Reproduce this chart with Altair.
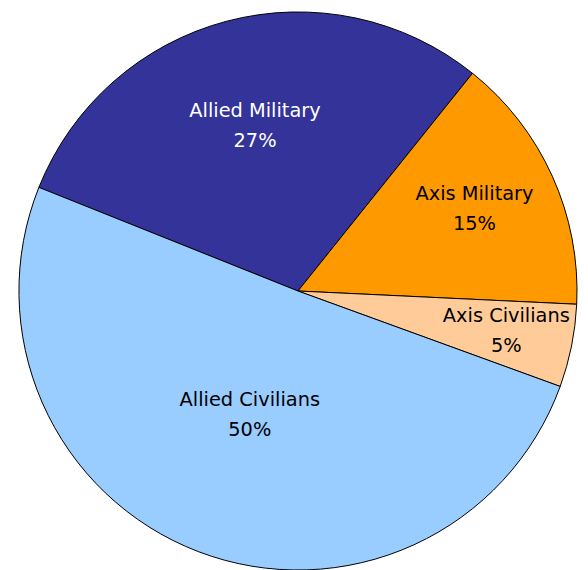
import math
import altair as alt
import pandas as pd

# Slices in clockwise order starting from the Allied Military / Allied Civilians edge
categories = ["Allied Military", "Axis Military", "Axis Civilians", "Allied Civilians"]
shares = [29.7, 15.0, 4.8, 50.5]          # angular share
pct_labels = ["27%", "15%", "5%", "50%"]   # printed labels

colors = ["#333399", "#FF9900", "#FFCC99", "#99CCFF"]
text_colors = ["#FFFFFF", "#000000", "#000000", "#000000"]
label_radius = [170, 195, 214, 136]

df = pd.DataFrame({
    "category": categories,
    "value": shares,
    "order": list(range(len(categories))),
    "label": [f"{c}\n{p}" for c, p in zip(categories, pct_labels)],
})

start = math.radians(291.8) - 2 * math.pi
theta_scale = alt.Scale(range=[start, start + 2 * math.pi], domain=[0, 100])

arcs = alt.Chart(df).mark_arc(radius=281, stroke="#000000", strokeWidth=1).encode(
    theta=alt.Theta("value:Q", stack=True, scale=theta_scale),
    order=alt.Order("order:Q", sort="ascending"),
    color=alt.Color("category:N", scale=alt.Scale(domain=categories, range=colors), legend=None),
)

texts = alt.Chart(df).transform_window(
    cum="sum(value)", sort=[alt.SortField("order", order="ascending")],
    frame=[None, 0],
).transform_calculate(
    mid="datum.cum - datum.value / 2",
    r=f"{label_radius}[datum.order]",
).mark_text(
    font="DejaVu Sans", fontSize=19.5, lineBreak="\n", lineHeight=30,
    align="center", baseline="middle", dy=-17,
).encode(
    theta=alt.Theta("mid:Q", stack=None, scale=theta_scale),
    text="label:N",
    radius=alt.Radius("r:Q", scale=None),
    color=alt.Color("category:N", scale=alt.Scale(domain=categories, range=text_colors), legend=None),
)

chart = alt.layer(arcs, texts).resolve_scale(color="independent").properties(
    width=568, height=560,
    padding={"left": 8, "top": 0, "right": 0, "bottom": 0},
).configure_view(stroke=None)

chart.save("out.html", embed_options={"renderer": "svg", "actions": False})
